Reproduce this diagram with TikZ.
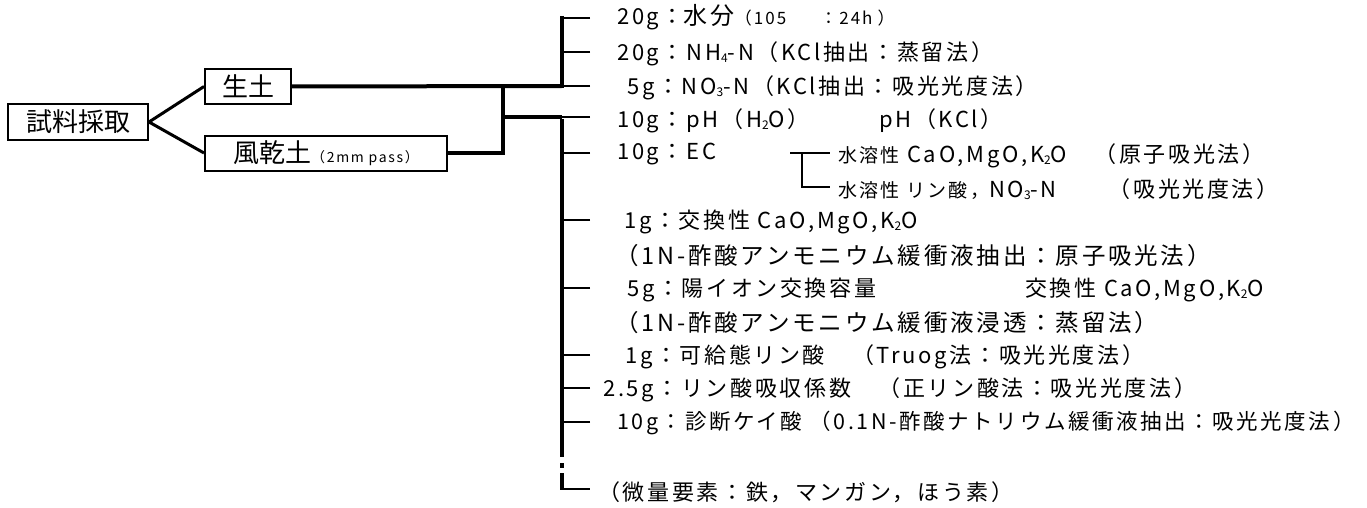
\documentclass[tikz,border=0pt]{standalone}
\usepackage{fontspec}
\setmainfont{Noto Sans CJK JP}
\newfontfamily\rowf[LetterSpace=12]{Noto Sans CJK JP}
\newcommand{\myfs}[1]{\fontsize{#1}{#1}\selectfont}
\newcommand{\sbs}[1]{\raisebox{-0.15ex}{\myfs{12}#1}}
\tikzset{
  box/.style={draw, line width=2pt, inner sep=0pt, minimum height=35pt, font=\myfs{26}},
  row/.style={anchor=west, inner sep=0pt, font=\rowf\myfs{22}},
  thickl/.style={line width=4pt},
  tickl/.style={line width=2pt},
  diag/.style={line width=3pt},
}
\begin{document}
\begin{tikzpicture}[x=1pt,y=-1pt]
\useasboundingbox (0,0) rectangle (1367,508);
% first level boxes
\node[box, minimum width=140pt] (shiryo) at (78,122) {試料採取};
\node[box, minimum width=86pt] (sei) at (248,86.5) {生土};
\node[box, minimum width=242pt] (fu) at (326,153) {風乾土{\rowf\myfs{14}（2mm pass）}};
\draw[diag] (shiryo.east) -- (sei.west);
\draw[diag] (shiryo.east) -- (fu.west);
% junction coordinates
\coordinate (uTop) at (562,16);
\coordinate (uBot) at (562,86);
\coordinate (b1) at (503,86);
\coordinate (b2) at (503,153);
\coordinate (bm) at (503,117);
\coordinate (lTop) at (562,117);
\coordinate (lBot) at (562,457);
\coordinate (d1) at (562,463);
\coordinate (d2) at (562,468);
\coordinate (d3) at (562,473);
\coordinate (lEnd) at (562,489);
\coordinate (lTip) at (590,489);
\draw[thickl] (sei.east) -- (uBot);
\draw[thickl] (uTop) -- ([yshift=-2pt]uBot);
\draw[thickl] (fu.east) -- (b2) -- ([yshift=-2pt]b1);
\draw[thickl] (bm) -- (lTop);
\draw[thickl] ([yshift=-2pt]lTop) -- (lBot);
\draw[thickl] (d1) -- (d2);
\draw[thickl] (d3) -- (lEnd);
\draw[tickl] ([xshift=-2pt]lEnd) -- (lTip);
% ticks
\foreach \yy in {18,52,86,117,153,220,288,355,388,422}{
  \coordinate (t\yy) at (590,\yy);
  \draw[tickl] (t\yy) -- ++(-28,0);
}
% rows
\node[row] (r1) at (617,17) {20g：{\myfs{24}水分}{\myfs{17}（105\hspace{2em}：24h\hspace{0.3em}）}};
\node[row] (r2) at (617,54) {20g：NH\sbs{4}-N（KCl抽出：蒸留法）};
\node[row] (r3) at (627,88) {5g：NO\sbs{3}-N（KCl抽出：吸光光度法）};
\node[row] (r4) at (617,121) {10g：pH（H\sbs{2}O）};
\node[row] (r4b) at (879,121) {pH（KCl）};
\node[row] (r5) at (617,154) {10g：EC};
% EC bracket
\coordinate (e0) at (790,153);
\coordinate (e1) at (802,153);
\coordinate (e2) at (802,187);
\coordinate (e3) at (830,153);
\coordinate (e4) at (830,187);
\draw[tickl] (e0) -- (e3);
\draw[tickl] (e1) -- (e2) -- (e4);
\node[row] (s1) at (838,156) {{\myfs{19}水溶性} CaO,MgO,K\sbs{2}O　（原子吸光法）};
\node[row] (s2) at (838,189) {{\myfs{19}水溶性 リン酸，}NO\sbs{3}-N　　（吸光光度法）};
\node[row] (r6) at (624,222) {1g：交換性 CaO,MgO,K\sbs{2}O};
\node[row, font=\rowf\myfs{23.5}] (r6b) at (615,256) {（1N-酢酸アンモニウム緩衝液抽出：原子吸光法）};
\node[row] (r7) at (627,290) {5g：陽イオン交換容量};
\node[row] (r7c) at (1025,290) {交換性 CaO,MgO,K\sbs{2}O};
\node[row, font=\rowf\myfs{23.5}] (r7b) at (615,323) {（1N-酢酸アンモニウム緩衝液浸透：蒸留法）};
\node[row] (r8) at (625,357) {1g：可給態リン酸　（Truog法：吸光光度法）};
\node[row] (r9) at (603,390) {2.5g：リン酸吸収係数　（正リン酸法：吸光光度法）};
\node[row, font=\rowf\myfs{21.5}] (r10) at (617,423) {10g：診断ケイ酸 （0.1N-酢酸ナトリウム緩衝液抽出：吸光光度法）};
\node[row] (r11) at (598,492) {（微量要素：鉄，マンガン，ほう素）};
\end{tikzpicture}
\end{document}
